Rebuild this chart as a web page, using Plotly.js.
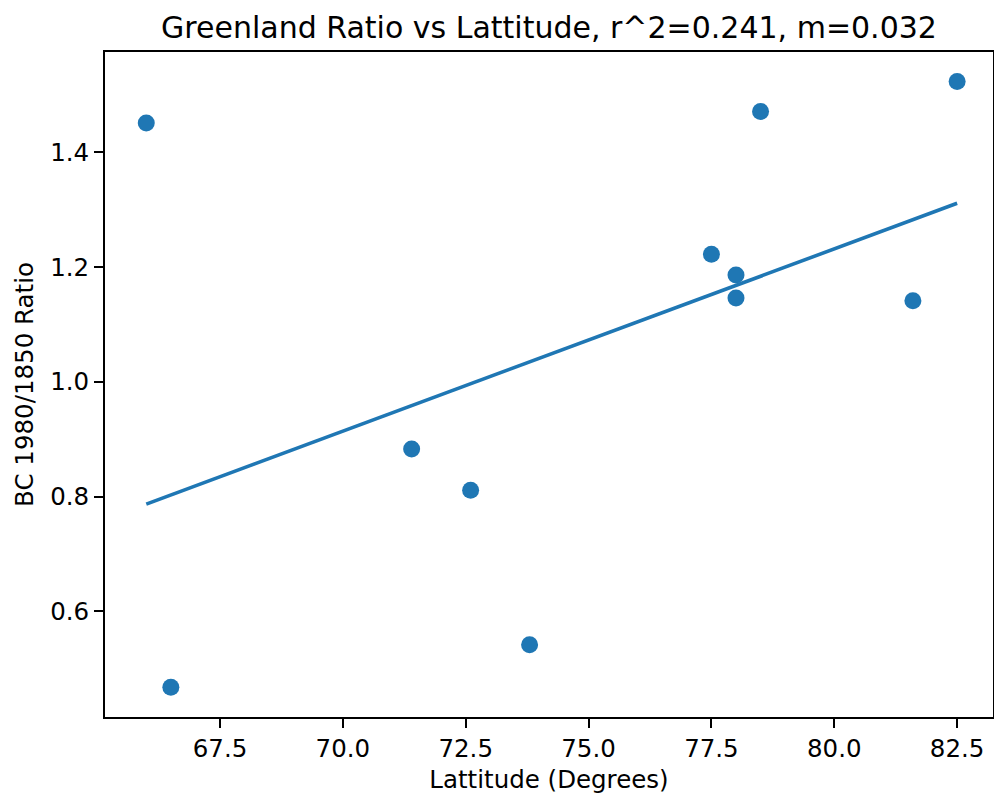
<!DOCTYPE html>
<html>
<head>
<meta charset="utf-8">
<script src="https://cdn.plot.ly/plotly-3.0.1.min.js"></script>
<style>
  html, body { margin: 0; padding: 0; background: #ffffff; }
  #chart { width: 994px; height: 797px; }
</style>
</head>
<body>
<div id="chart"></div>
<script>
// Ice-core sites: latitude and black-carbon 1980/1850 ratio
const latitude = [66.0, 66.5, 71.4, 72.6, 73.8, 77.5, 78.0, 78.0, 78.5, 82.5, 81.6];
const bcRatio  = [1.451, 0.468, 0.883, 0.811, 0.542, 1.222, 1.186, 1.146, 1.471, 1.523, 1.141];

const xTickVals = [67.5, 70.0, 72.5, 75.0, 77.5, 80.0, 82.5];
const xTickText = ['67.5', '70.0', '72.5', '75.0', '77.5', '80.0', '82.5'];
const yTickVals = [0.6, 0.8, 1.0, 1.2, 1.4];
const yTickText = ['0.6', '0.8', '1.0', '1.2', '1.4'];

// Ordinary least-squares fit, drawn between the smallest and largest latitude
function linearFit(xs, ys) {
  const n = xs.length;
  const mx = xs.reduce((a, b) => a + b, 0) / n;
  const my = ys.reduce((a, b) => a + b, 0) / n;
  let sxy = 0, sxx = 0;
  for (let i = 0; i < n; i++) {
    sxy += (xs[i] - mx) * (ys[i] - my);
    sxx += (xs[i] - mx) * (xs[i] - mx);
  }
  const m = sxy / sxx;
  return { m: m, b: my - m * mx };
}
const fit = linearFit(latitude, bcRatio);
const fitX = [Math.min(...latitude), Math.max(...latitude)];
const fitY = fitX.map(x => fit.m * x + fit.b);

const blue = '#1f77b4';
const font = 'DejaVu Sans, sans-serif';

const traces = [
  {
    x: fitX, y: fitY, type: 'scatter', mode: 'lines',
    line: { color: blue, width: 3.6 },
    hoverinfo: 'skip'
  },
  {
    x: latitude, y: bcRatio, type: 'scatter', mode: 'markers',
    marker: { color: blue, size: 17, line: { width: 0 } }
  }
];

const axisCommon = {
  showgrid: false, zeroline: false,
  showline: true, linecolor: '#000000', linewidth: 2, mirror: true,
  ticks: 'outside', ticklen: 9, tickwidth: 2, tickcolor: '#000000',
  tickfont: { family: font, size: 24.5, color: '#000000' },
  tickmode: 'array'
};

const layout = {
  width: 994, height: 797,
  paper_bgcolor: '#ffffff', plot_bgcolor: '#ffffff',
  showlegend: false,
  margin: { l: 105, r: 1, t: 52, b: 80, pad: 0 },
  title: {
    text: 'Greenland Ratio vs Lattitude, r^2=0.241, m=0.032',
    font: { family: font, size: 30, color: '#000000' },
    x: 0.5, xref: 'paper', xanchor: 'center',
    y: 1 - 27 / 797, yref: 'container', yanchor: 'middle'
  },
  xaxis: Object.assign({}, axisCommon, {
    range: [65.16, 83.23],
    tickvals: xTickVals, ticktext: xTickText,
    title: { text: 'Lattitude (Degrees)', font: { family: font, size: 24.5, color: '#000000' }, standoff: 8 }
  }),
  yaxis: Object.assign({}, axisCommon, {
    range: [0.416, 1.5745],
    tickvals: yTickVals, ticktext: yTickText,
    title: { text: 'BC 1980/1850 Ratio', font: { family: font, size: 24.5, color: '#000000' }, standoff: 10 }
  })
};

Plotly.newPlot('chart', traces, layout, { displayModeBar: false, staticPlot: true });
</script>
</body>
</html>
